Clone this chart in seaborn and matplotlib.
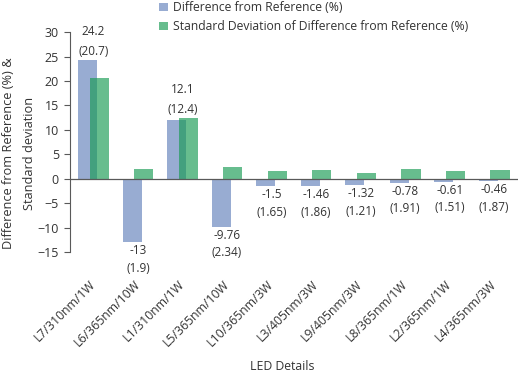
import matplotlib
matplotlib.use("Agg")
import matplotlib.pyplot as plt
import seaborn as sns
import pandas as pd

# data
leds = ["L7/310nm/1W", "L6/365nm/10W", "L1/310nm/1W", "L5/365nm/10W", "L10/365nm/3W",
        "L3/405nm/3W", "L9/405nm/3W", "L8/365nm/1W", "L2/365nm/1W", "L4/365nm/3W"]
diff_pct = [24.2, -13, 12.1, -9.76, -1.5, -1.46, -1.32, -0.78, -0.61, -0.46]
std_pct = [20.7, 1.9, 12.4, 2.34, 1.65, 1.86, 1.21, 1.91, 1.51, 1.87]
diff_labels = ["24.2", "-13", "12.1", "-9.76", "-1.5", "-1.46", "-1.32", "-0.78", "-0.61", "-0.46"]
std_labels = ["20.7", "1.9", "12.4", "2.34", "1.65", "1.86", "1.21", "1.91", "1.51", "1.87"]
series_names = ["Difference from Reference (%)",
                "Standard Deviation of Difference from Reference (%)"]

df = pd.DataFrame({
    "led": leds * 2,
    "value": diff_pct + std_pct,
    "series": [series_names[0]] * len(leds) + [series_names[1]] * len(leds),
})

sns.set_style("white")
plt.rcParams["font.family"] = ["Open Sans", "DejaVu Sans"]
text_color = "#333333"
axis_color = "#595959"

fig = plt.figure(figsize=(5.22, 3.73), dpi=100)
ax = fig.add_axes([0.134, 0.324, 0.858, 0.59])

sns.barplot(data=df, x="led", y="value", hue="series",
            palette=["#4472C4", "#00B050"], width=0.52, gap=-0.65,
            linewidth=0, legend=False, ax=ax)

# Excel-style transparency
for patch in ax.containers[0]:
    patch.set_alpha(0.6)
for patch in ax.containers[1]:
    patch.set_alpha(0.65)

ax.axhline(0, color=axis_color, linewidth=0.9, zorder=3)

# value labels
for i in range(len(leds)):
    label = f"{diff_labels[i]}\n({std_labels[i]})"
    if diff_pct[i] >= 0:
        top = max(diff_pct[i], std_pct[i])
        ax.annotate(label, (i, top), xytext=(0, 1.5), textcoords="offset points",
                    ha="center", va="bottom", fontsize=8.5, linespacing=1.75,
                    color=text_color)
    else:
        ax.annotate(label, (i, diff_pct[i]), xytext=(0, -1.5), textcoords="offset points",
                    ha="center", va="top", fontsize=8.5, linespacing=1.45,
                    color=text_color)

ax.set_ylim(-15, 30)
ax.set_xlim(-0.53, 9.53)
ax.set_yticks(range(-15, 31, 5))
ax.tick_params(axis="y", left=True, length=4, width=0.8, color=axis_color,
               labelsize=9, labelcolor=text_color, pad=4)
ax.tick_params(axis="x", bottom=False, length=0, pad=22, labelsize=8.8,
               labelcolor=text_color)
plt.setp(ax.get_xticklabels(), rotation=45, ha="right", va="center",
         rotation_mode="anchor")

for side in ["top", "right", "bottom"]:
    ax.spines[side].set_visible(False)
ax.spines["left"].set_color(axis_color)
ax.spines["left"].set_linewidth(0.8)

ax.set_ylabel("Difference from Reference (%) &\nStandard deviation",
              fontsize=9.2, color=text_color, linespacing=1.75)
ax.yaxis.set_label_coords(-0.076, 0.45)
ax.set_xlabel("LED Details", fontsize=8.8, color=text_color)
ax.xaxis.set_label_coords(0.475, -0.49)

ax.legend(handles=ax.containers, labels=series_names, loc="upper left",
          bbox_to_anchor=(0.303, 1.0), bbox_transform=fig.transFigure,
          frameon=False, fontsize=8.7, handlelength=0.7, handleheight=0.7,
          handletextpad=0.4, labelspacing=0.5, borderaxespad=0, borderpad=0.1,
          labelcolor=text_color)

fig.savefig("out.png", dpi=100)
